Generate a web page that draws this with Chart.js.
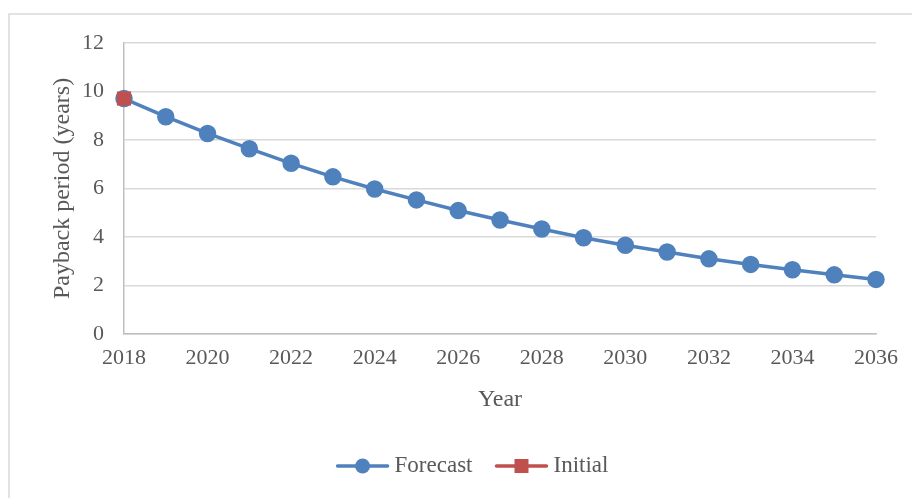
<!DOCTYPE html>
<html>
<head>
<meta charset="utf-8">
<script src="https://cdn.jsdelivr.net/npm/chart.js@4/dist/chart.umd.min.js"></script>
<style>
  html, body { margin: 0; padding: 0; background: #ffffff; overflow: hidden; }
  #wrap { position: relative; width: 912px; height: 498px; }
</style>
</head>
<body>
<div id="wrap"><canvas id="chart" width="912" height="498"></canvas></div>
<script>
// Years and payback period (years)
const years = [2018, 2019, 2020, 2021, 2022, 2023, 2024, 2025, 2026, 2027,
               2028, 2029, 2030, 2031, 2032, 2033, 2034, 2035, 2036];
const forecast = [9.71, 8.96, 8.27, 7.64, 7.04, 6.48, 5.98, 5.53, 5.09, 4.70,
                  4.33, 3.97, 3.66, 3.38, 3.10, 2.87, 2.65, 2.44, 2.25];
const initialYears = [2018];
const initialValues = [9.71];

const seriesNames = ['Forecast', 'Initial'];
const yTicks = { min: 0, max: 12, step: 2 };
const xTicks = { min: 2018, max: 2036, step: 2 };

const BLUE = '#4F81BD';
const RED = '#C0504D';
const TEXT = '#595959';
const GRID = '#D9D9D9';
const FONT = '"Liberation Serif", "DejaVu Serif", serif';

// Thin frame around the chart object
const framePlugin = {
  id: 'frame',
  beforeDraw(chart) {
    const ctx = chart.ctx;
    ctx.save();
    ctx.strokeStyle = '#D9D9D9';
    ctx.lineWidth = 1.5;
    ctx.beginPath();
    ctx.moveTo(9, 498);
    ctx.lineTo(9, 14);
    ctx.lineTo(912, 14);
    ctx.stroke();
    ctx.restore();
  }
};

// Legend under the axis title: a line segment with the series marker, then the name
const lineLegendPlugin = {
  id: 'lineLegend',
  afterDraw(chart) {
    const ctx = chart.ctx;
    const sym = 54, gap = 5, itemGap = 22;
    const cy = 466, cx = 472;
    ctx.save();
    ctx.font = '23px ' + FONT;
    ctx.textBaseline = 'middle';
    const items = chart.data.datasets.map((ds, i) => ({
      ds, marker: i === 0 ? 'circle' : 'rect',
      w: ctx.measureText(ds.label).width
    }));
    let total = 0;
    items.forEach((it, i) => { total += sym + gap + it.w + (i ? itemGap : 0); });
    let x = cx - total / 2;
    items.forEach((it, i) => {
      if (i) x += itemGap;
      const color = it.ds.borderColor;
      ctx.strokeStyle = color;
      ctx.fillStyle = color;
      ctx.lineWidth = 3.5;
      ctx.lineCap = 'round';
      ctx.beginPath();
      ctx.moveTo(x + 2, cy);
      ctx.lineTo(x + sym - 2, cy);
      ctx.stroke();
      const mx = x + sym / 2;
      if (it.marker === 'circle') {
        ctx.beginPath(); ctx.arc(mx, cy, 7.5, 0, Math.PI * 2); ctx.fill();
      } else {
        ctx.fillRect(mx - 7, cy - 7, 14, 14);
      }
      x += sym + gap;
      ctx.fillStyle = TEXT;
      ctx.fillText(it.ds.label, x, cy);
      x += it.w;
    });
    ctx.restore();
  }
};

const toPoints = (xs, ys) => xs.map((x, i) => ({ x: x, y: ys[i] }));

new Chart(document.getElementById('chart'), {
  type: 'line',
  data: {
    datasets: [
      {
        label: seriesNames[0],
        data: toPoints(years, forecast),
        borderColor: BLUE,
        backgroundColor: BLUE,
        borderWidth: 3.5,
        pointRadius: 7,
        pointHoverRadius: 7,
        pointBackgroundColor: BLUE,
        pointBorderColor: BLUE,
        pointStyle: 'circle',
        tension: 0,
        clip: false,
        order: 1
      },
      {
        label: seriesNames[1],
        data: toPoints(initialYears, initialValues),
        borderColor: RED,
        backgroundColor: RED,
        borderWidth: 3.5,
        pointRadius: 10,
        pointHoverRadius: 10,
        pointBackgroundColor: RED,
        pointBorderColor: RED,
        pointBorderWidth: 0,
        pointStyle: 'rect',
        clip: false,
        order: 0
      }
    ]
  },
  options: {
    responsive: false,
    animation: false,
    devicePixelRatio: 1,
    layout: { padding: { left: 8, right: 36, top: 43, bottom: 53 } },
    plugins: {
      tooltip: { enabled: false },
      legend: { display: false }
    },
    scales: {
      x: {
        type: 'linear',
        min: xTicks.min,
        max: xTicks.max,
        afterFit(scale) { scale.height = 111; },
        ticks: {
          stepSize: xTicks.step,
          color: TEXT,
          padding: 11,
          maxRotation: 0,
          font: { family: FONT, size: 22 },
          callback: v => String(v)
        },
        grid: { display: false, drawTicks: false },
        border: { display: true, color: '#BFBFBF', width: 1.5 },
        title: {
          display: true,
          text: 'Year',
          color: TEXT,
          font: { family: FONT, size: 24 },
          padding: { top: 0, bottom: 31 }
        }
      },
      y: {
        min: yTicks.min,
        max: yTicks.max,
        afterFit(scale) { scale.width = 116; },
        ticks: {
          stepSize: yTicks.step,
          color: TEXT,
          padding: 20,
          font: { family: FONT, size: 22 }
        },
        grid: { color: GRID, lineWidth: 1.5, drawTicks: false },
        border: { display: true, color: '#BFBFBF', width: 1.5 },
        title: {
          display: true,
          text: 'Payback period (years)',
          color: TEXT,
          font: { family: FONT, size: 24 },
          padding: { top: 40, bottom: 0 }
        }
      }
    }
  },
  plugins: [framePlugin, lineLegendPlugin]
});
</script>
</body>
</html>
